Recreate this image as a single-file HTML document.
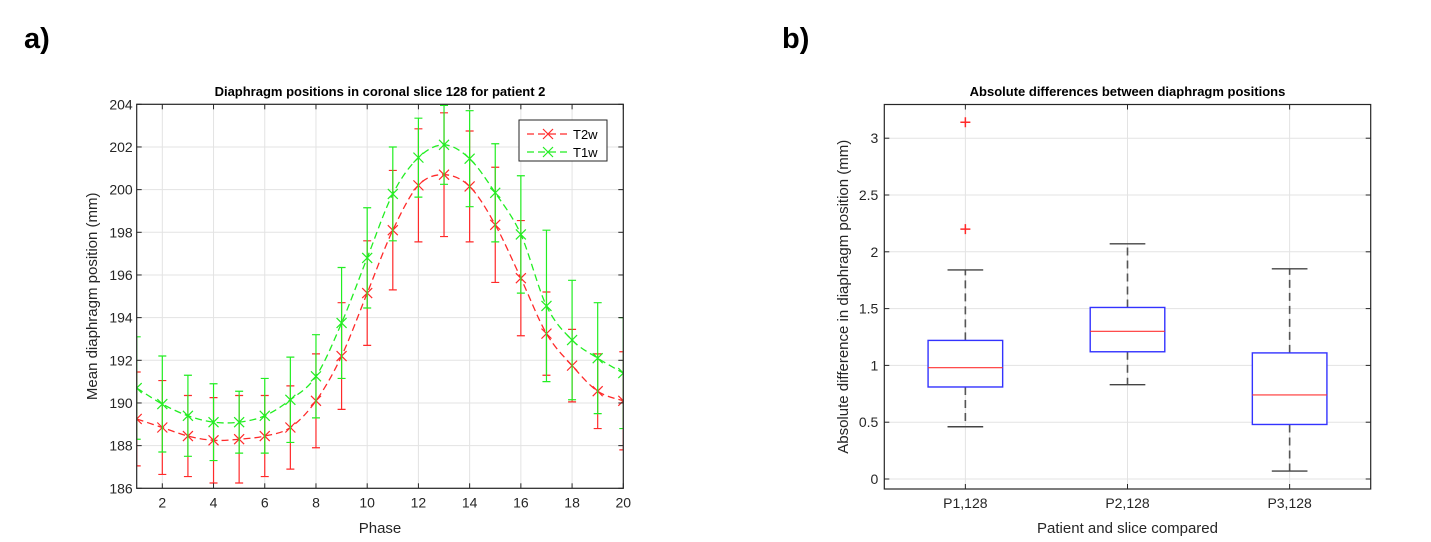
<!DOCTYPE html>
<html><head><meta charset="utf-8">
<style>
html,body{margin:0;padding:0;background:#fff;}
svg{display:block;font-family:"Liberation Sans",Arial,sans-serif;}
</style></head>
<body>
<svg id="fig" width="1431" height="542" viewBox="0 0 1431 542" xmlns="http://www.w3.org/2000/svg">
<text x="24" y="48" font-size="29" font-weight="bold" fill="#000">a)</text>
<text x="782" y="48" font-size="29" font-weight="bold" fill="#000">b)</text>
<g id="left"></g>
<g id="right"></g>
</svg>
<script>
// ---- Left chart data ----
const phases = [1,2,3,4,5,6,7,8,9,10,11,12,13,14,15,16,17,18,19,20];
const t2wMean = [189.25,188.85,188.45,188.25,188.3,188.45,188.85,190.1,192.2,195.15,198.1,200.2,200.7,200.15,198.35,195.85,193.25,191.75,190.55,190.1];
const t2wErr  = [2.2,2.2,1.9,2.0,2.05,1.9,1.95,2.2,2.5,2.45,2.8,2.65,2.9,2.6,2.7,2.7,1.95,1.7,1.75,2.3];
const t1wMean = [190.7,189.95,189.4,189.1,189.1,189.4,190.15,191.25,193.75,196.8,199.8,201.5,202.1,201.45,199.85,197.9,194.55,192.95,192.1,191.4];
const t1wErr  = [2.4,2.25,1.9,1.8,1.45,1.75,2.0,1.95,2.6,2.35,2.2,1.85,1.85,2.25,2.3,2.75,3.55,2.8,2.6,2.6];
const leftXTicks = [2,4,6,8,10,12,14,16,18,20];
const leftYTicks = [186,188,190,192,194,196,198,200,202,204];
// ---- Right chart data ----
const boxCats = ["P1,128","P2,128","P3,128"];
const boxMin = [0.46,0.83,0.07];
const boxQ1 = [0.81,1.12,0.48];
const boxMed = [0.98,1.30,0.74];
const boxQ3 = [1.22,1.51,1.11];
const boxMax = [1.84,2.07,1.85];
const outlierCat = [1,1];
const outlierVal = [2.2,3.14];
const rightYTicks = [0,0.5,1,1.5,2,2.5,3];
const rightYTickLabels = ["0","0.5","1","1.5","2","2.5","3"];

const NS="http://www.w3.org/2000/svg";
function mk(parent,tag,attrs,text){const e=document.createElementNS(NS,tag);for(const k in attrs)e.setAttribute(k,attrs[k]);if(text!==undefined)e.textContent=text;parent.appendChild(e);return e;}

// ---- Left chart ----
(function(){
const g=document.getElementById('left');
const L=136.7,R=623.3,T=104.3,B=488.3;
const xs=v=>L+(v-1)/(19)*(R-L);
const ys=v=>B-(v-186)/(18)*(B-T);
const clip=mk(g,'clipPath',{id:'lclip'});mk(clip,'rect',{x:L,y:T-1,width:R-L,height:B-T+2});
for(const t of leftXTicks){const l=mk(g,'line',{x1:xs(t),x2:xs(t),y1:T,y2:B,stroke:'#e3e3e3','stroke-width':1});}
for(const t of leftYTicks){const l=mk(g,'line',{x1:L,x2:R,y1:ys(t),y2:ys(t),stroke:'#e3e3e3','stroke-width':1});}
const plot=mk(g,'g',{'clip-path':'url(#lclip)'});
function series(mean,err,color,name){
  const sg=mk(plot,'g',{});
  
  
  // smooth path (Catmull-Rom)
  const P=phases.map((p,i)=>[xs(p),ys(mean[i])]);
  let d='M'+P[0][0]+','+P[0][1];
  for(let i=0;i<P.length-1;i++){const p0=P[Math.max(0,i-1)],p1=P[i],p2=P[i+1],p3=P[Math.min(P.length-1,i+2)];
    d+=' C'+(p1[0]+(p2[0]-p0[0])/6)+','+(p1[1]+(p2[1]-p0[1])/6)+' '+(p2[0]-(p3[0]-p1[0])/6)+','+(p2[1]-(p3[1]-p1[1])/6)+' '+p2[0]+','+p2[1];}
  const ln=mk(sg,'path',{d:d,fill:'none',stroke:color,'stroke-width':1.3,'stroke-dasharray':'7,4'});
  
  
  phases.forEach((p,i)=>{
    const x=xs(p),y1=ys(mean[i]+err[i]),y2=ys(mean[i]-err[i]);
    const eb=mk(sg,'path',{d:`M${x},${y1}V${y2}M${x-4},${y1}H${x+4}M${x-4},${y2}H${x+4}`,stroke:color,'stroke-width':1.2,fill:'none'});
    
    
    const y=ys(mean[i]);
    const m=mk(sg,'path',{d:`M${x-5},${y-5}L${x+5},${y+5}M${x-5},${y+5}L${x+5},${y-5}`,stroke:color,'stroke-width':1.2});
    
    
  });
}
series(t2wMean,t2wErr,'#ff2a2a','t2w');
series(t1wMean,t1wErr,'#22ee22','t1w');
const box=mk(g,'rect',{x:L,y:T,width:R-L,height:B-T,fill:'none',stroke:'#262626','stroke-width':1.2});

for(const t of leftXTicks){mk(g,'line',{x1:xs(t),x2:xs(t),y1:B,y2:B-5,stroke:'#262626'});mk(g,'line',{x1:xs(t),x2:xs(t),y1:T,y2:T+5,stroke:'#262626'});
  const tx=mk(g,'text',{x:xs(t),y:B+19,'text-anchor':'middle','font-size':14,fill:'#262626'},String(t));}
for(const t of leftYTicks){mk(g,'line',{x1:L,x2:L+5,y1:ys(t),y2:ys(t),stroke:'#262626'});mk(g,'line',{x1:R,x2:R-5,y1:ys(t),y2:ys(t),stroke:'#262626'});
  const tx=mk(g,'text',{x:L-4,y:ys(t)+5,'text-anchor':'end','font-size':14,fill:'#262626'},String(t));}
const ti=mk(g,'text',{x:(L+R)/2,y:96,'text-anchor':'middle','font-size':13,'font-weight':'bold',fill:'#000'},'Diaphragm positions in coronal slice 128 for patient 2');
const xl=mk(g,'text',{x:(L+R)/2,y:533,'text-anchor':'middle','font-size':15,fill:'#262626'},'Phase');
const yl=mk(g,'text',{x:0,y:0,'text-anchor':'middle','font-size':15,fill:'#262626',transform:`translate(97,${(T+B)/2}) rotate(-90)`},'Mean diaphragm position (mm)');
// legend
const lg=mk(g,'g',{});
mk(lg,'rect',{x:519,y:120,width:88,height:41,fill:'#fff',stroke:'#262626','stroke-width':1});
[['T2w','#ff2a2a',134],['T1w','#22ee22',152]].forEach(([n,c,y])=>{
  const e=mk(lg,'g',{});
  mk(e,'line',{x1:527,x2:569,y1:y,y2:y,stroke:c,'stroke-width':1.3,'stroke-dasharray':'7,4'});
  mk(e,'path',{d:`M${548-5},${y-5}L${548+5},${y+5}M${548-5},${y+5}L${548+5},${y-5}`,stroke:c,'stroke-width':1.2});
  mk(e,'text',{x:573,y:y+5,'font-size':13,fill:'#000'},n);
});
})();

// ---- Right chart ----
(function(){
const g=document.getElementById('right');
const L=884.3,R=1370.7,T=104.5,B=489;
const xs=v=>L+(v-0.5)/3*(R-L);
const ys=v=>479-v*113.6;
for(let i=0;i<boxCats.length;i++){mk(g,'line',{x1:xs(i+1),x2:xs(i+1),y1:T,y2:B,stroke:'#e3e3e3'});}
for(const t of rightYTicks){mk(g,'line',{x1:L,x2:R,y1:ys(t),y2:ys(t),stroke:'#e3e3e3'});}
boxCats.forEach((c,i)=>{
  const x=xs(i+1),hw=0.23*(R-L)/3,cw=0.11*(R-L)/3;
  const bg=mk(g,'g',{});
  
  
  mk(bg,'line',{x1:x,x2:x,y1:ys(boxQ3[i]),y2:ys(boxMax[i]),stroke:'#555','stroke-width':1.6,'stroke-dasharray':'8,5'});
  mk(bg,'line',{x1:x,x2:x,y1:ys(boxQ1[i]),y2:ys(boxMin[i]),stroke:'#555','stroke-width':1.6,'stroke-dasharray':'8,5'});
  mk(bg,'line',{x1:x-cw,x2:x+cw,y1:ys(boxMax[i]),y2:ys(boxMax[i]),stroke:'#444','stroke-width':1.4});
  mk(bg,'line',{x1:x-cw,x2:x+cw,y1:ys(boxMin[i]),y2:ys(boxMin[i]),stroke:'#444','stroke-width':1.4});
  mk(bg,'rect',{x:x-hw,y:ys(boxQ3[i]),width:2*hw,height:ys(boxQ1[i])-ys(boxQ3[i]),fill:'#fff',stroke:'#3333ff','stroke-width':1.4});
  mk(bg,'line',{x1:x-hw,x2:x+hw,y1:ys(boxMed[i]),y2:ys(boxMed[i]),stroke:'#ff3333','stroke-width':1.2});
});
outlierVal.forEach((v,i)=>{const x=xs(outlierCat[i]),y=ys(v);
  const o=mk(g,'path',{d:`M${x-5},${y}H${x+5}M${x},${y-5}V${y+5}`,stroke:'#ff2a2a','stroke-width':1.5});
  
  });
const box=mk(g,'rect',{x:L,y:T,width:R-L,height:B-T,fill:'none',stroke:'#262626','stroke-width':1.2});

boxCats.forEach((c,i)=>{const x=xs(i+1);mk(g,'line',{x1:x,x2:x,y1:B,y2:B-5,stroke:'#262626'});mk(g,'line',{x1:x,x2:x,y1:T,y2:T+5,stroke:'#262626'});
  const tx=mk(g,'text',{x:x,y:B+19,'text-anchor':'middle','font-size':14,fill:'#262626'},c);});
rightYTicks.forEach((t,i)=>{mk(g,'line',{x1:L,x2:L+5,y1:ys(t),y2:ys(t),stroke:'#262626'});mk(g,'line',{x1:R,x2:R-5,y1:ys(t),y2:ys(t),stroke:'#262626'});
  const tx=mk(g,'text',{x:L-6,y:ys(t)+5,'text-anchor':'end','font-size':14,fill:'#262626'},rightYTickLabels[i]);});
const ti=mk(g,'text',{x:(L+R)/2,y:96,'text-anchor':'middle','font-size':13,'font-weight':'bold',fill:'#000'},'Absolute differences between diaphragm positions');
const xl=mk(g,'text',{x:(L+R)/2,y:533,'text-anchor':'middle','font-size':15,fill:'#262626'},'Patient and slice compared');
const yl=mk(g,'text',{x:0,y:0,'text-anchor':'middle','font-size':15,fill:'#262626',transform:`translate(848,${(T+B)/2}) rotate(-90)`},'Absolute difference in diaphragm position (mm)');
})();
</script>
</body></html>
